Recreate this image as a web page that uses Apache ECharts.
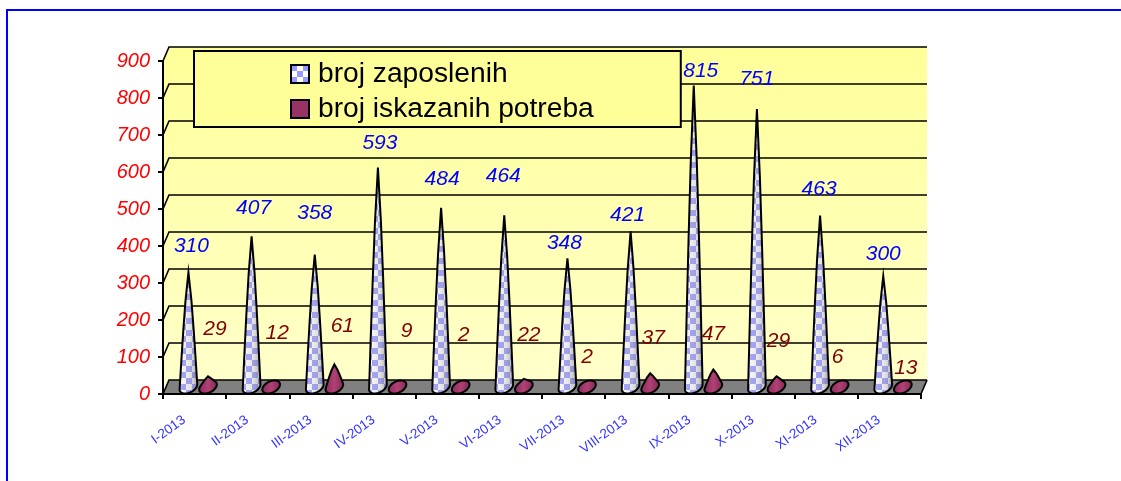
<!DOCTYPE html>
<html>
<head>
<meta charset="utf-8">
<style>
  html, body { margin: 0; padding: 0; background: #fff; }
  #chart { width: 1121px; height: 481px; }
</style>
<script src="https://cdn.jsdelivr.net/npm/echarts@6/dist/echarts.min.js"></script>
</head>
<body>
<div id="chart"></div>
<script>
const months = ["I-2013", "II-2013", "III-2013", "IV-2013", "V-2013", "VI-2013", "VII-2013", "VIII-2013", "IX-2013", "X-2013", "XI-2013", "XII-2013"];
const zaposleni = [310, 407, 358, 593, 484, 464, 348, 421, 815, 751, 463, 300];
const potrebe = [29, 12, 61, 9, 2, 22, 2, 37, 47, 29, 6, 13];
const yTicks = [0, 100, 200, 300, 400, 500, 600, 700, 800, 900];

// hand placed labels in the original, offset from the tip of each cone
const zaposleniLabelDx = [3, 2, 0, 2, 1, -1, -3, -3, 7, 0, -1, 0];
const zaposleniLabelDy = [-28, -30, -43, -26, -31, -41, -17, -18, -16, -32, -29, -24];
const potrebeLabelDx = [7, 6, 8, 9, 3, 5, 0, 3, 0, 2, -2, 3];
const potrebeLabelDy = [-49, -51, -40, -55, -53, -46, -31, -37, -37, -37, -30, -16];

const depthX = 6;
const depthY = 14;
const font = '"Liberation Sans", Arial, sans-serif';

function checkPattern() {
  const c = document.createElement("canvas");
  c.width = 12;
  c.height = 12;
  const ctx = c.getContext("2d");
  ctx.fillStyle = "#ffffff";
  ctx.fillRect(0, 0, 12, 12);
  ctx.fillStyle = "#9999ff";
  ctx.fillRect(0, 0, 6, 6);
  ctx.fillRect(6, 6, 6, 6);
  return { image: c, repeat: "repeat" };
}
const checks = checkPattern();

function hull(points) {
  const pts = points.slice().sort((a, b) => a[0] - b[0] || a[1] - b[1]);
  const cross = (o, a, b) => (a[0] - o[0]) * (b[1] - o[1]) - (a[1] - o[1]) * (b[0] - o[0]);
  const half = (list) => {
    const out = [];
    list.forEach((p) => {
      while (out.length > 1 && cross(out[out.length - 2], out[out.length - 1], p) <= 0) out.pop();
      out.push(p);
    });
    out.pop();
    return out;
  };
  return half(pts).concat(half(pts.reverse()));
}

function coneItem(shift, fill, shade, textColor, labelDx, labelDy) {
  return function (params, api) {
    const band = api.size([1, 0])[0];
    const i = api.value(0);
    const value = api.value(1);
    const top = api.coord([i, value]);
    const base = api.coord([i, 0]);
    const cx = top[0] + band * shift + depthX / 2;
    const tip = [cx, top[1] - depthY / 2];
    const cy = base[1] - depthY / 2;
    const a = band * 0.14;
    const b = 6;
    const pts = [tip];
    for (let k = 0; k < 32; k++) {
      const t = (k / 32) * Math.PI * 2;
      pts.push([cx + a * Math.cos(t), cy + b * Math.sin(t) - 2.5 * Math.cos(t)]);
    }
    // sides bulge a little, the original cones are not straight
    [0.25, 0.5, 0.75].forEach((f) => {
      const w = a * Math.pow(f, 0.78);
      const y = tip[1] + f * (cy - tip[1]);
      pts.push([cx - w, y + 2.5 * f], [cx + w, y - 2.5 * f]);
    });
    const outline = hull(pts);
    return {
      type: "group",
      children: [
        { type: "polygon", shape: { points: outline }, style: { fill: fill, stroke: null } },
        {
          type: "polygon",
          shape: { points: outline },
          style: { fill: shade, stroke: "#000", lineWidth: 2 },
        },
        {
          type: "text",
          z2: 10,
          style: {
            x: cx + labelDx[i],
            y: tip[1] + labelDy[i] + 2,
            text: String(value),
            fill: textColor,
            font: "italic 21px " + font,
            align: "center",
            verticalAlign: "middle",
          },
        },
      ],
    };
  };
}

const blueShade = new echarts.graphic.LinearGradient(0, 0, 1, 0, [
  { offset: 0, color: "rgba(255,255,255,0.35)" },
  { offset: 0.25, color: "rgba(200,200,210,0.2)" },
  { offset: 0.6, color: "rgba(170,170,170,0.35)" },
  { offset: 1, color: "rgba(90,90,90,0.55)" },
]);
const redShade = new echarts.graphic.LinearGradient(0, 0, 1, 0, [
  { offset: 0, color: "rgba(120,30,80,0.5)" },
  { offset: 0.5, color: "rgba(200,80,130,0.5)" },
  { offset: 1, color: "rgba(100,30,70,0.5)" },
]);

function wallItem(params, api) {
  const sys = params.coordSys;
  const left = sys.x;
  const right = sys.x + sys.width;
  const floor = api.coord([0, 0])[1];
  const ceiling = api.coord([0, yTicks[yTicks.length - 1]])[1];
  const wallFill = new echarts.graphic.LinearGradient(0, 0, 0, 1, [
    { offset: 0, color: "#ffff99" },
    { offset: 1, color: "#ffffcc" },
  ]);
  const children = [
    {
      type: "polygon",
      shape: {
        points: [
          [left, ceiling],
          [left + depthX, ceiling - depthY],
          [right + depthX, ceiling - depthY],
          [right + depthX, floor - depthY],
          [left, floor],
        ],
      },
      style: { fill: wallFill },
    },
    {
      type: "polygon",
      shape: {
        points: [
          [left, floor],
          [left + depthX, floor - depthY],
          [right + depthX, floor - depthY],
          [right, floor],
        ],
      },
      style: { fill: "#808080" },
    },
    {
      type: "line",
      shape: { x1: right, y1: floor, x2: right + depthX, y2: floor - depthY },
      style: { stroke: "#000", lineWidth: 1.6 },
    },
  ];
  yTicks.forEach((tick) => {
    const y = api.coord([0, tick])[1];
    children.push({
      type: "polyline",
      shape: { points: [[left, y], [left + depthX, y - depthY], [right + depthX, y - depthY]] },
      style: { fill: null, stroke: "#000", lineWidth: 1.6 },
    });
  });
  return { type: "group", children: children };
}

const chart = echarts.init(document.getElementById("chart"));
chart.setOption({
  animation: false,
  backgroundColor: "#fff",
  graphic: [
    {
      type: "polyline",
      silent: true,
      shape: { points: [[7, 481], [7, 10], [1121, 10]] },
      style: { fill: null, stroke: "#0000ff", lineWidth: 2 },
    },
  ],
  grid: { left: 163, right: 200, top: 61, bottom: 87 },
  legend: {
    left: 194,
    top: 51,
    orient: "vertical",
    align: "left",
    data: [
      { name: "broj zaposlenih", icon: "rect", itemStyle: { color: checks, borderColor: "#000", borderWidth: 2 } },
      { name: "broj iskazanih potreba", icon: "rect", itemStyle: { color: "#993366", borderColor: "#000", borderWidth: 2 } },
    ],
    itemWidth: 18,
    itemHeight: 18,
    itemGap: 5,
    padding: [8, 87, 3, 96],
    backgroundColor: "#ffff99",
    borderColor: "#000",
    borderWidth: 2,
    selectedMode: false,
    textStyle: { fontFamily: font, fontSize: 28.2, color: "#000", lineHeight: 30, padding: [0, 0, 0, 4] },
  },
  xAxis: {
    type: "category",
    data: months,
    boundaryGap: true,
    axisLine: { lineStyle: { color: "#000", width: 2 } },
    axisTick: { show: true, length: 5, lineStyle: { color: "#000", width: 2 } },
    axisLabel: {
      interval: 0,
      rotate: 36,
      margin: 17,
      padding: [0, 13, 0, 0],
      color: "#3333ff",
      fontFamily: font,
      fontSize: 13.5,
    },
    splitLine: { show: false },
    z: 5,
  },
  yAxis: {
    type: "value",
    min: 0,
    max: 900,
    interval: 100,
    axisLine: { show: true, lineStyle: { color: "#000", width: 2 } },
    axisTick: { show: true, length: 5, lineStyle: { color: "#000", width: 2 } },
    axisLabel: {
      margin: 13,
      color: "#ff0000",
      fontFamily: font,
      fontStyle: "italic",
      fontSize: 20,
    },
    splitLine: { show: false },
    z: 5,
  },
  series: [
    {
      name: "wall",
      type: "custom",
      silent: true,
      z: 1,
      renderItem: wallItem,
      data: [[0, 0]],
    },
    {
      name: "broj zaposlenih",
      type: "custom",
      silent: true,
      z: 3,
      itemStyle: { color: "#9999ff" },
      renderItem: coneItem(-0.145, checks, blueShade, "#0000ff", zaposleniLabelDx, zaposleniLabelDy),
      encode: { x: 0, y: 1 },
      data: zaposleni.map((v, i) => [i, v]),
    },
    {
      name: "broj iskazanih potreba",
      type: "custom",
      silent: true,
      z: 4,
      itemStyle: { color: "#993366" },
      renderItem: coneItem(0.165, "#993366", redShade, "#800000", potrebeLabelDx, potrebeLabelDy),
      encode: { x: 0, y: 1 },
      data: potrebe.map((v, i) => [i, v]),
    },
  ],
});
</script>
</body>
</html>
